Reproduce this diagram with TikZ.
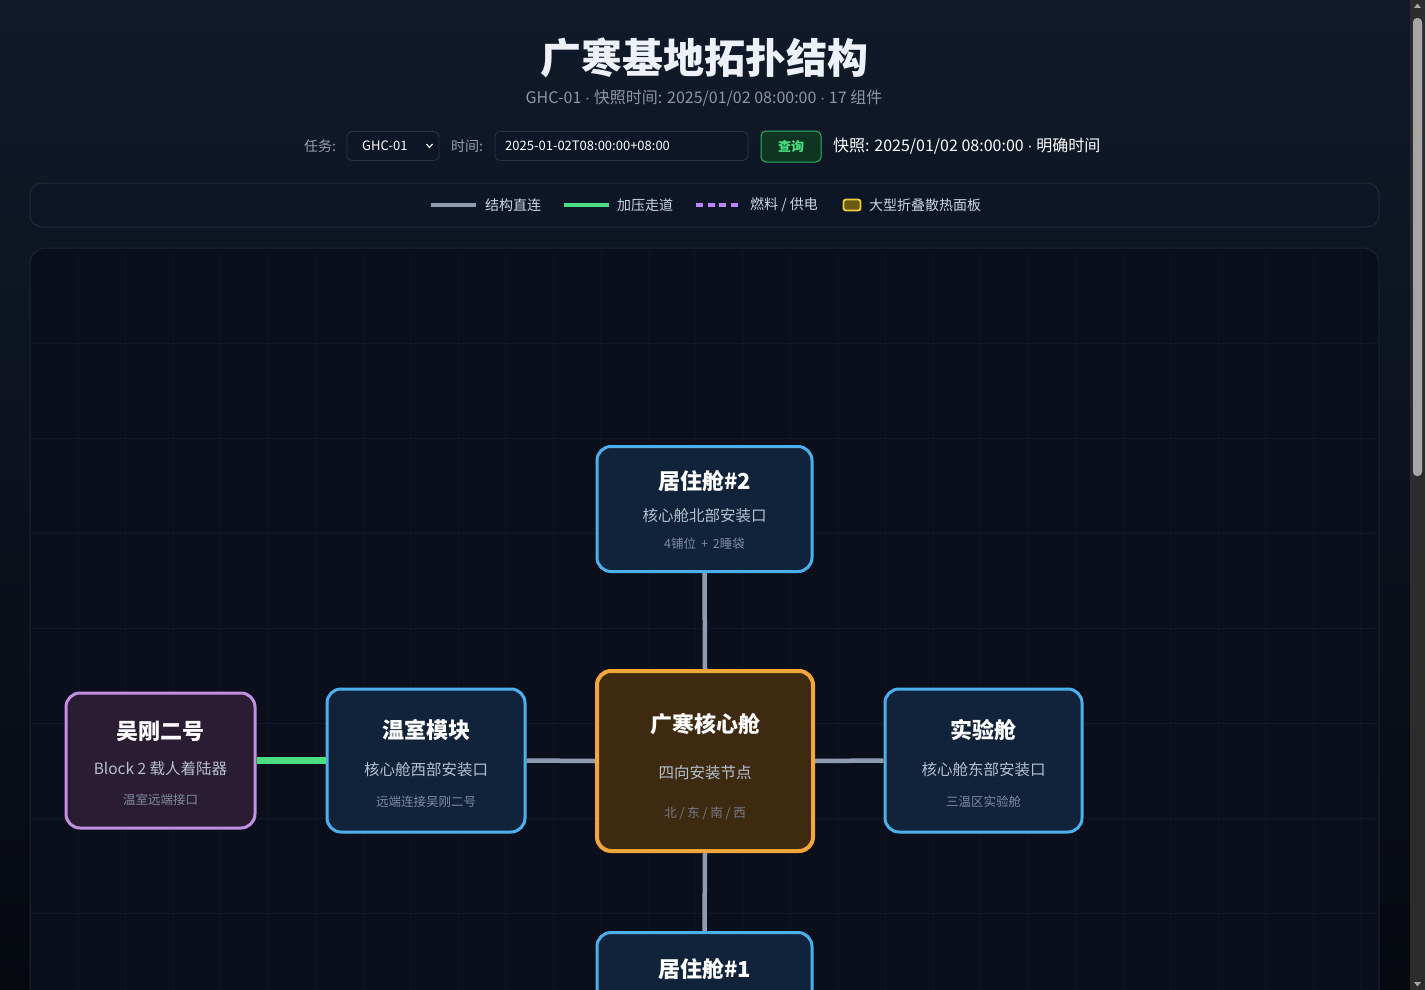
\documentclass[tikz,border=0pt]{standalone}
\usepackage{fontspec}
\setmainfont{Noto Sans CJK SC}
\newfontfamily\dotfont{Liberation Sans}
\newcommand{\mdot}{{\dotfont ·}}
\usetikzlibrary{calc}
\definecolor{bgtop}{HTML}{111A2A}
\definecolor{bgbot}{HTML}{060910}
\definecolor{canvasfill}{HTML}{0A0F1B}
\definecolor{canvasline}{HTML}{1B2535}
\definecolor{gridline}{HTML}{0E1522}
\definecolor{gridlineh}{HTML}{111928}
\definecolor{legfill}{HTML}{0D1626}
\definecolor{legline}{HTML}{1E2A3B}
\definecolor{bluebd}{HTML}{4DB0EE}
\definecolor{bluefill}{HTML}{10233A}
\definecolor{orangebd}{HTML}{F5A63B}
\definecolor{orangefill}{HTML}{3E2A10}
\definecolor{purplebd}{HTML}{C38FE0}
\definecolor{purplefill}{HTML}{2A1C33}
\definecolor{edgegrey}{HTML}{8E9BB0}
\definecolor{greenline}{HTML}{4ADE80}
\definecolor{purpleline}{HTML}{C084FC}
\definecolor{titlecol}{HTML}{EEF2F8}
\definecolor{subcol}{HTML}{8A96A8}
\definecolor{labcol}{HTML}{94A0B2}
\definecolor{legtext}{HTML}{CBD5E1}
\definecolor{nodesub}{HTML}{B4C0CF}
\definecolor{nodethird}{HTML}{7E8BA0}
\definecolor{fieldfill}{HTML}{0D1627}
\definecolor{fieldline}{HTML}{273346}
\definecolor{btnfill}{HTML}{0F3522}
\definecolor{btnline}{HTML}{27B45E}
\definecolor{sbtrack}{HTML}{2C2C2C}
\definecolor{sbthumb}{HTML}{A6A6A6}
\definecolor{panelyellow}{HTML}{6B5A12}
\definecolor{panelyellowbd}{HTML}{F0CC3A}
\tikzset{
  box/.style={rounded corners=14pt, line width=3pt, inner sep=0pt},
  bluebox/.style={box, draw=bluebd, fill=bluefill},
  corebox/.style={box, draw=orangebd, fill=orangefill, line width=4pt},
  landerbox/.style={box, draw=purplebd, fill=purplefill},
  ntitle/.style={text=white, font=\bfseries\fontsize{22}{26}\selectfont, inner sep=0pt},
  nsub/.style={text=nodesub, font=\fontsize{15.5}{18}\selectfont, inner sep=0pt},
  nthird/.style={text=nodethird, font=\fontsize{12.5}{15}\selectfont, inner sep=0pt},
  edge/.style={draw=edgegrey, line width=4.5pt},
  pressedge/.style={draw=greenline, line width=7pt},
  legtxt/.style={text=legtext, font=\fontsize{14}{16}\selectfont, anchor=west, inner sep=0pt},
  ctrllab/.style={text=labcol, font=\fontsize{14}{16}\selectfont, anchor=west, inner sep=0pt},
  field/.style={draw=fieldline, fill=fieldfill, rounded corners=5pt, line width=0.8pt, inner sep=0pt},
}
\begin{document}
\begin{tikzpicture}[x=1pt,y=-1pt]
\clip (0,0) rectangle (1425,990);
\useasboundingbox (0,0) rectangle (1425,990);
% background
\shade[top color=bgtop, bottom color=bgbot] (0,0) rectangle (1425,990);
% title
\node[text=titlecol, font=\bfseries\fontsize{41}{46}\selectfont, inner sep=0pt] (title) at (704,58) {广寒基地拓扑结构};
\node[text=subcol, font=\fontsize{16}{19}\selectfont, inner sep=0pt] (subtitle) at (704,98) {GHC-01 \mdot{} 快照时间: 2025/01/02 08:00:00 \mdot{} 17 组件};
% controls
\node[ctrllab] (tasklab) at (304,146) {任务:};
\node[field, minimum width=92, minimum height=29] (select) at (393,146) {};
\node[text=white, font=\fontsize{13}{15}\selectfont, anchor=west, inner sep=0pt] (selecttxt) at (362,146) {GHC-01};
\draw[white, line width=1.1pt] (426.5,144) -- (429.5,147.5) -- (432.5,144);
\node[ctrllab] (timelab) at (451,146) {时间:};
\node[field, minimum width=253, minimum height=29] (timefield) at (621.5,146) {};
\node[text=white, font=\fontsize{13}{15}\selectfont, anchor=west, inner sep=0pt] (timetxt) at (505,146) {2025-01-02T08:00:00+08:00};
\node[draw=btnline, fill=btnfill, rounded corners=5pt, line width=1pt, minimum width=60, minimum height=31, inner sep=0pt] (btn) at (791,146.5) {};
\node[text=greenline, font=\bfseries\fontsize{13}{15}\selectfont, inner sep=0pt] (btntxt) at (791,147) {查询};
\node[text=white, font=\fontsize{16}{19}\selectfont, anchor=west, inner sep=0pt] (snap) at (833,146) {快照: 2025/01/02 08:00:00 \mdot{} 明确时间};
% legend bar
\node[draw=legline, fill=legfill, rounded corners=12pt, line width=1pt, minimum width=1349, minimum height=44, inner sep=0pt] (legend) at (704.5,205) {};
\coordinate (l1a) at (431,205); \coordinate (l1b) at (476,205);
\draw[draw=edgegrey, line width=3.5pt] (l1a) -- (l1b);
\node[legtxt] (leg1) at (485,205) {结构直连};
\coordinate (l2a) at (564,205); \coordinate (l2b) at (609,205);
\draw[draw=greenline, line width=3.5pt] (l2a) -- (l2b);
\node[legtxt] (leg2) at (617,205) {加压走道};
\coordinate (l3a) at (696,205); \coordinate (l3b) at (742,205);
\draw[draw=purpleline, line width=3.5pt, dash pattern=on 7pt off 4.5pt] (l3a) -- (l3b);
\node[legtxt] (leg3) at (750,205) {燃料 / 供电};
\node[draw=panelyellowbd, fill=panelyellow, rounded corners=2.5pt, line width=1.8pt, minimum width=17, minimum height=11, inner sep=0pt] (legpanel) at (852,205) {};
\node[legtxt] (leg4) at (869,205) {大型折叠散热面板};
% canvas
\node[draw=canvasline, fill=canvasfill, rounded corners=16pt, line width=1pt, minimum width=1349, minimum height=800, inner sep=0pt, anchor=north] (canvas) at (704.5,247.5) {};
\begin{scope}
\clip (31,248.5) rectangle (1378,990);
\foreach \gx in {78,125.5,...,1378} \draw[gridline, line width=0.8pt] (\gx,248) -- (\gx,990);
\foreach \gy in {343,438,...,990} \draw[gridlineh, line width=0.9pt] (31,\gy) -- (1378,\gy);
\end{scope}
% nodes
\node[bluebox, minimum width=215, minimum height=125] (hab2) at (704.5,509) {};
\node[corebox, minimum width=216, minimum height=180] (core) at (705,761) {};
\node[bluebox, minimum width=197, minimum height=143] (lab) at (983.5,760.5) {};
\node[bluebox, minimum width=198, minimum height=143] (green) at (426,760.5) {};
\node[landerbox, minimum width=189, minimum height=135] (lander) at (160.5,760.5) {};
\node[bluebox, minimum width=215, minimum height=125] (hab1) at (704.5,995) {};
% edges
\draw[edge] (hab2.south) -- (core.north);
\draw[edge] (core.south) -- (hab1.north);
\draw[edge] (core.west) -- (green.east);
\draw[edge] (core.east) -- (lab.west);
\draw[pressedge] (lander.east) -- (green.west);
% node texts
\node[ntitle] (hab2t) at (704.5,481) {居住舱\#2};
\node[nsub] (hab2s) at (704.5,516) {核心舱北部安装口};
\node[nthird] (hab2x) at (704.5,544) {4铺位 \,+\, 2睡袋};
\node[ntitle] (coret) at (705,724) {广寒核心舱};
\node[nsub] (cores) at (705,773) {四向安装节点};
\node[nthird, text=nodethird!85!orangefill] (corex) at (705,813) {北 / 东 / 南 / 西};
\node[ntitle] (labt) at (983.5,730) {实验舱};
\node[nsub] (labs) at (983.5,770) {核心舱东部安装口};
\node[nthird] (labx) at (983.5,802) {三温区实验舱};
\node[ntitle] (greent) at (426,730) {温室模块};
\node[nsub] (greens) at (426,770) {核心舱西部安装口};
\node[nthird] (greenx) at (426,802) {远端连接吴刚二号};
\node[ntitle] (landert) at (160.5,731) {吴刚二号};
\node[nsub] (landers) at (160.5,769) {Block 2 载人着陆器};
\node[nthird] (landerx) at (160.5,800) {温室远端接口};
\node[ntitle] (hab1t) at (704.5,969) {居住舱\#1};
% scrollbar
\fill[sbtrack] (1410,0) rectangle (1425,990);
\fill[sbthumb, rounded corners=4pt] (1413,18) rectangle (1422,476);
\fill[sbthumb] (1414,8) -- (1421,8) -- (1417.5,3.5) -- cycle;
\fill[sbthumb] (1414,982) -- (1421,982) -- (1417.5,986.5) -- cycle;
\end{tikzpicture}
\end{document}
